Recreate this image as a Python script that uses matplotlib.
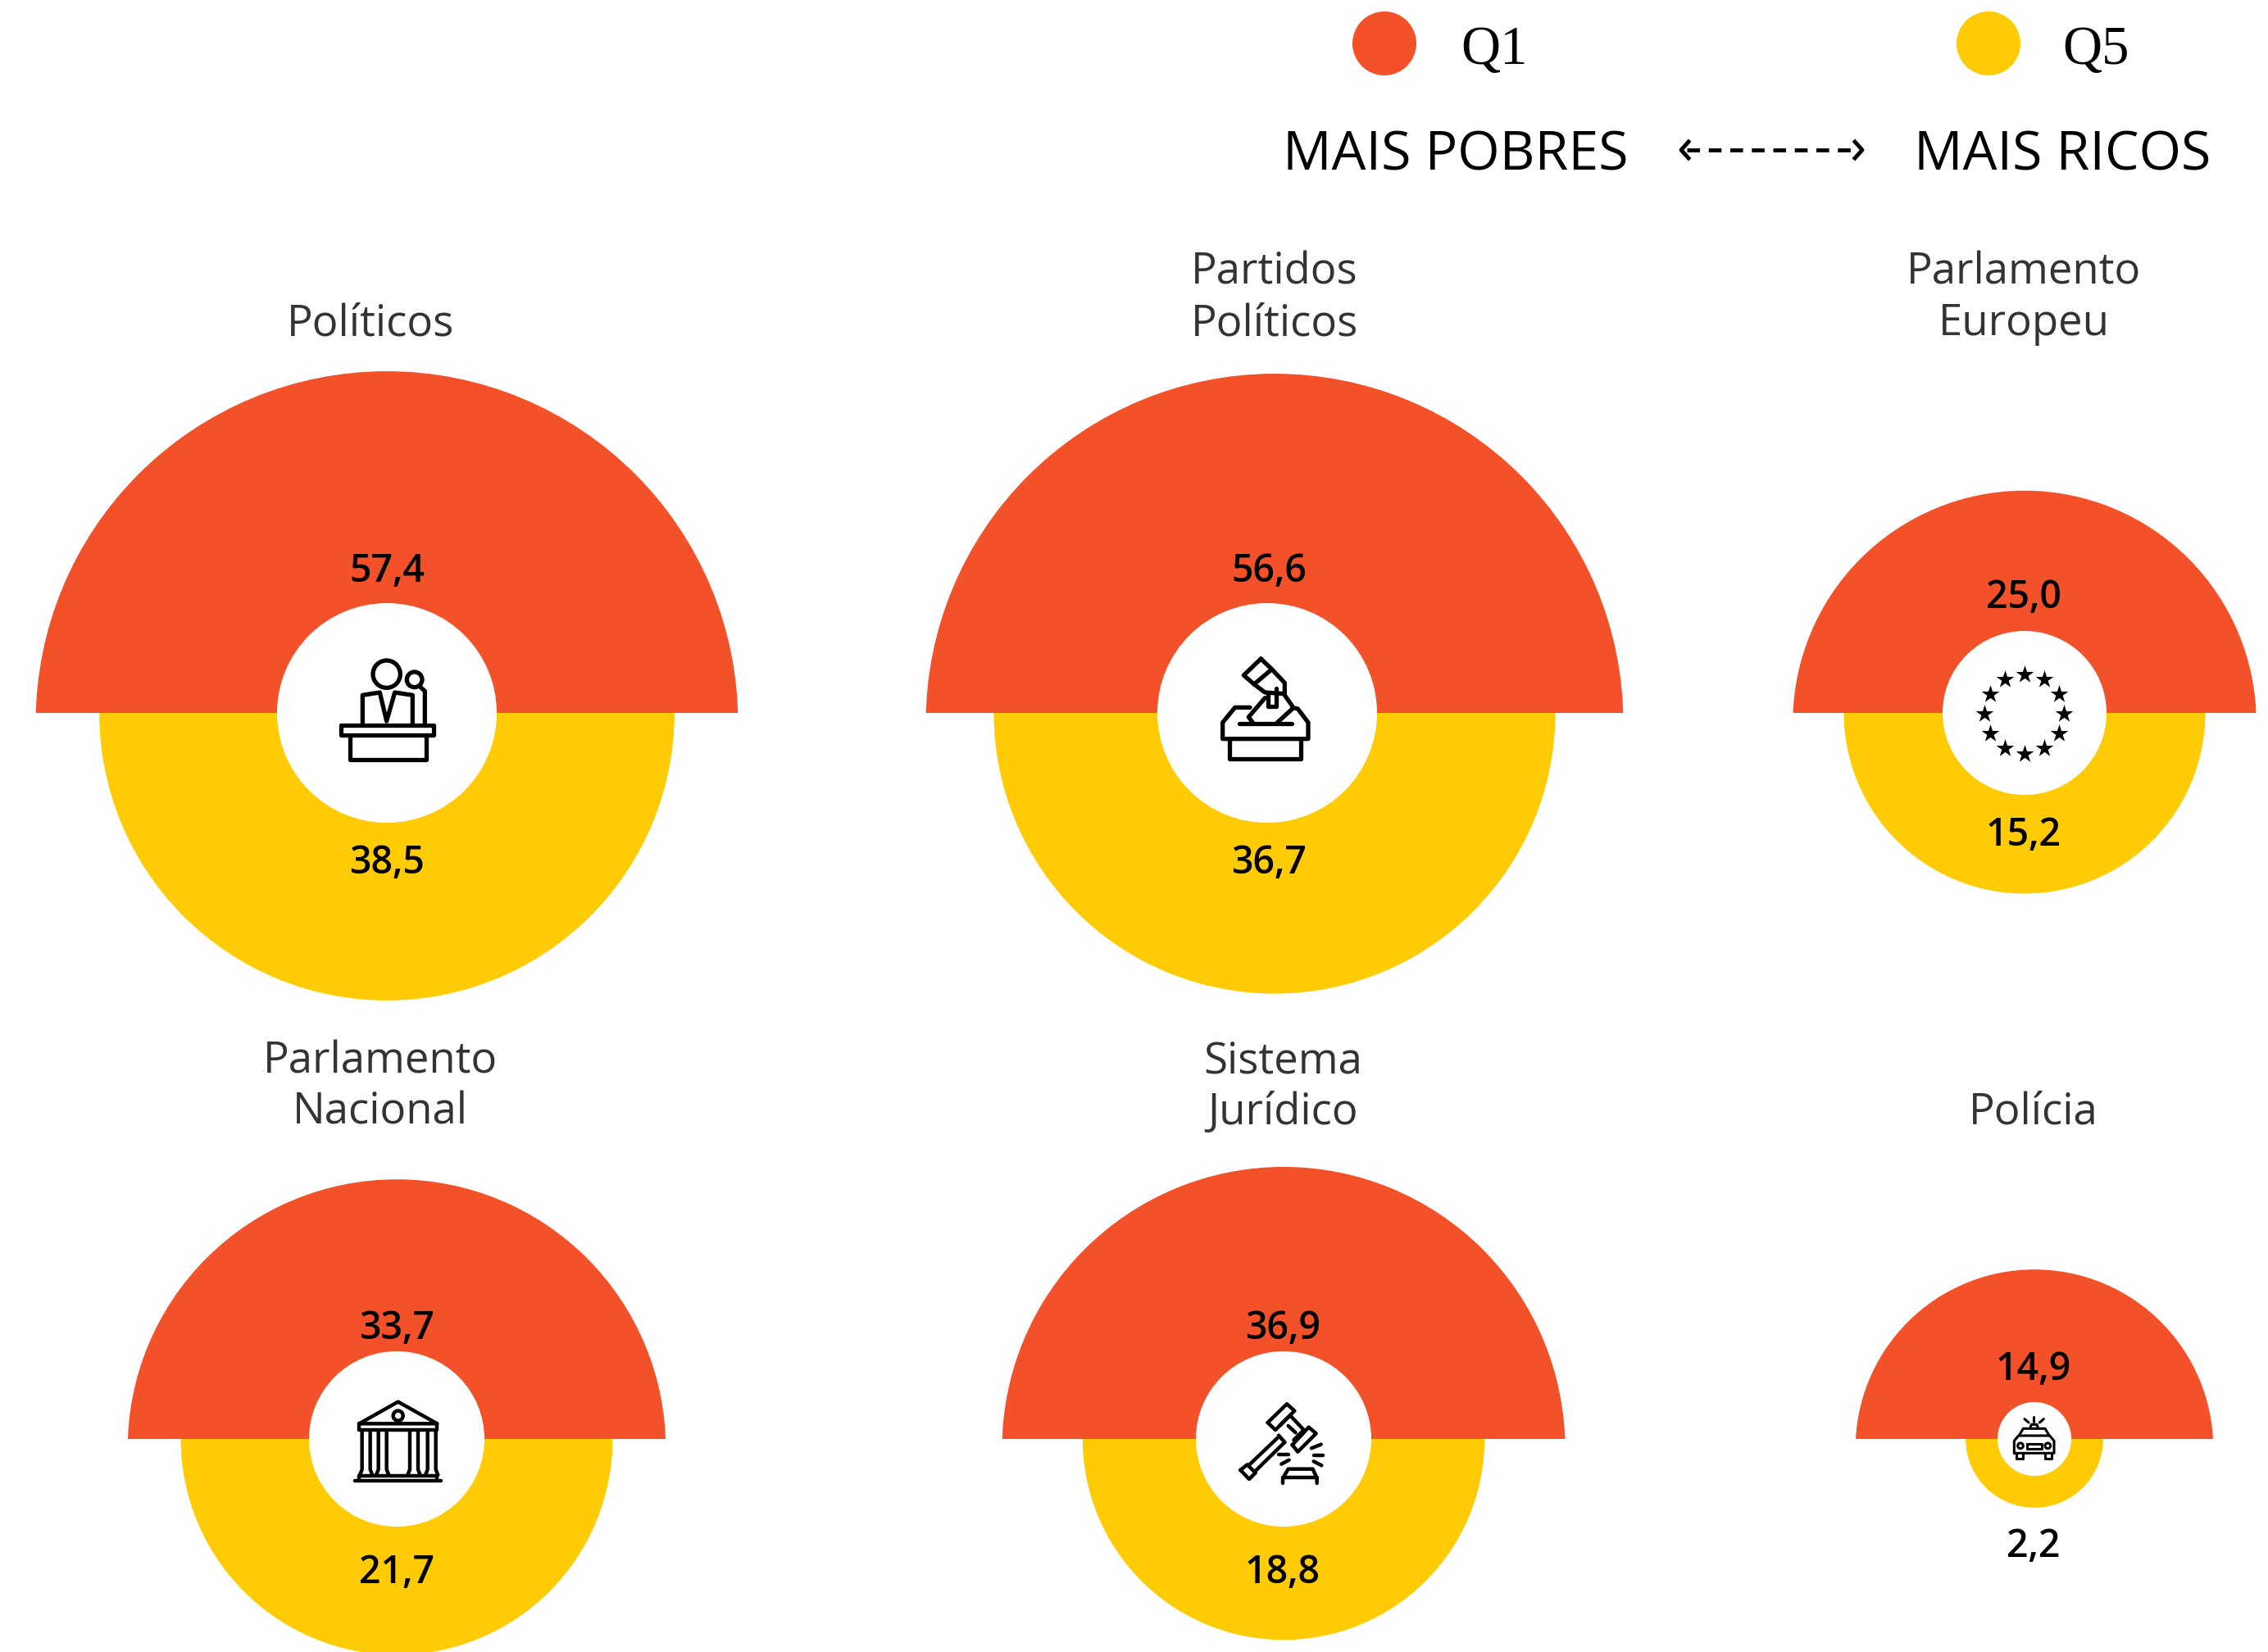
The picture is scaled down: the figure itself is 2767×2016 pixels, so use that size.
import numpy as np
import matplotlib
matplotlib.use("Agg")
import matplotlib.pyplot as plt
from matplotlib.patches import Circle, Wedge, Rectangle

# dados
titles = ["Políticos", "Partidos\nPolíticos", "Parlamento\nEuropeu",
          "Parlamento\nNacional", "Sistema\nJurídico", "Polícia"]
q1_values = [57.4, 56.6, 25.0, 33.7, 36.9, 14.9]
q5_values = [38.5, 36.7, 15.2, 21.7, 18.8, 2.2]

# layout, em pixels da imagem
center_x = [472, 1555, 2470, 484, 1566, 2482]
base_y = [870, 870, 870, 1756, 1756, 1756]
hole_x = [472, 1546, 2470, 484, 1566, 2482]
hole_r = [134, 134, 100, 107, 107, 45]
q1_label_y = [697, 697, 729, 1622, 1622, 1672]
q5_label_y = [1054, 1054, 1019, 1919, 1919, 1887]
label_x = [472, 1548, 2469, 484, 1565, 2481]
title_x = [452, 1555, 2469, 464, 1565, 2481]
title_y = [409, 409, 409, 1372, 1372, 1372]  # baseline da ultima linha

RADIUS_K = 56.55  # raio = k * sqrt(valor), area proporcional
Q1_SHIFT = 11.5
RED = "#F2512A"
YELLOW = "#FFCB05"
SANS = ["Open Sans", "DejaVu Sans"]
ICON_LW = 3.8

fig = plt.figure(figsize=(27.67, 20.16), dpi=100)
ax = fig.add_axes([0, 0, 1, 1])
ax.set_xlim(0, 2767)
ax.set_ylim(2016, 0)
ax.axis("off")


def draw_lines(lines, x0, y0, lw=ICON_LW, scale=1 / 3):
    # coordenadas dos icones vem dos recortes ampliados 3x
    for pts in lines:
        pts = np.array(pts, dtype=float)
        ax.plot(x0 + pts[:, 0] * scale, y0 + pts[:, 1] * scale, color="black", lw=lw,
                solid_joinstyle="round", solid_capstyle="round", zorder=6)


def draw_rings(circles, x0, y0, lw=ICON_LW, scale=1 / 3):
    for cx, cy, r in circles:
        ax.add_patch(Circle((x0 + cx * scale, y0 + cy * scale), r * scale, fill=False,
                            ec="black", lw=lw, zorder=6))


def icon_podium():
    x0, y0 = 330, 730
    draw_rings([(425, 278, 50), (527, 298, 28)], x0, y0)
    draw_lines([
        [(337, 465), (337, 355), (400, 345), (425, 450), (455, 345), (520, 355), (520, 465)],
        [(548, 325), (565, 340), (565, 465)],
        [(258, 465), (597, 465), (597, 500), (258, 500), (258, 465)],
        [(290, 500), (290, 590), (570, 590), (570, 500)],
    ], x0, y0)


def icon_ballot():
    x0, y0 = 1410, 730
    draw_lines([
        [(385, 222), (425, 260), (360, 315), (322, 282), (385, 222)],
        [(425, 260), (472, 310), (472, 350)],
        [(360, 315), (400, 345), (472, 350)],
        [(410, 345), (410, 395), (440, 395), (440, 330)],
        [(400, 365), (340, 435), (355, 455)],
        [(445, 455), (500, 405)],
        [(472, 355), (500, 395)],
        [(345, 400), (290, 400), (245, 455), (245, 515), (558, 515), (558, 455), (520, 405), (500, 400)],
        [(305, 458), (497, 458)],
        [(270, 515), (270, 588), (532, 588), (532, 515)],
    ], x0, y0)


def icon_stars():
    angles = np.arange(12) * np.pi / 6
    ax.scatter(2469.8 + 48.5 * np.cos(angles), 871 + 48.5 * np.sin(angles),
               marker="*", s=270, color="black", linewidths=0, zorder=6)


def icon_temple():
    x0, y0 = 370, 1650
    draw_rings([(347, 233, 18)], x0, y0, lw=3.2)
    lines = [
        [(205, 262), (347, 182), (490, 262), (205, 262)],
        [(205, 262), (205, 285), (490, 285), (490, 262)],
        [(205, 452), (490, 452)],
        [(190, 472), (505, 472)],
        [(205, 452), (205, 472)],
        [(490, 452), (490, 472)],
    ]
    for x in [215, 275, 390, 455]:
        lines.append([(x, 290), (x, 430), (x - 8, 450)])
        lines.append([(x + 30, 290), (x + 30, 430), (x + 38, 450)])
    draw_lines(lines, x0, y0, lw=3.2)


def icon_gavel():
    x0, y0 = 1450, 1650
    draw_lines([
        [(290, 258), (360, 190), (388, 215), (318, 285), (290, 258)],
        [(380, 340), (440, 275), (467, 298), (400, 365), (380, 340)],
        [(335, 268), (372, 232), (422, 285), (385, 322)],
        [(365, 270), (392, 295)],
        [(330, 305), (352, 330)],
        [(330, 310), (220, 415)],
        [(352, 330), (242, 438)],
        [(190, 432), (215, 412), (245, 442), (222, 465), (190, 432)],
        [(345, 480), (345, 462), (365, 428), (455, 428), (470, 462), (470, 480)],
        [(345, 460), (470, 460)],
        [(330, 375), (365, 375)],
        [(340, 410), (368, 395)],
        [(450, 352), (485, 338)],
        [(458, 378), (492, 378)],
        [(458, 400), (487, 415)],
    ], x0, y0, lw=3.2)


def icon_car():
    x0, y0 = 2420, 1700
    draw_rings([(135, 193, 10), (235, 193, 10)], x0, y0, lw=2.2)
    draw_lines([
        [(130, 155), (145, 130), (225, 130), (240, 155)],
        [(170, 130), (175, 115), (195, 115), (200, 130)],
        [(183, 88), (183, 104)],
        [(150, 95), (165, 108)],
        [(220, 95), (205, 108)],
        [(112, 220), (112, 175), (128, 156), (242, 156), (258, 175), (258, 220), (112, 220)],
        [(120, 220), (120, 240), (145, 240), (145, 220)],
        [(225, 220), (225, 240), (250, 240), (250, 220)],
        [(158, 185), (212, 185), (212, 205), (158, 205), (158, 185)],
    ], x0, y0, lw=2.2)


# semicirculos
for i in range(len(titles)):
    r1 = RADIUS_K * np.sqrt(q1_values[i])
    r5 = RADIUS_K * np.sqrt(q5_values[i])
    red = Circle((center_x[i], base_y[i] + Q1_SHIFT), r1, fc=RED, ec="none", zorder=2)
    ax.add_patch(red)
    red.set_clip_path(Rectangle((center_x[i] - r1 - 5, base_y[i] - r1 - 5), 2 * r1 + 10, r1 + 5,
                                transform=ax.transData))
    ax.add_patch(Wedge((center_x[i], base_y[i]), r5, 0, 180, fc=YELLOW, ec="none", zorder=3))
    ax.add_patch(Circle((hole_x[i], base_y[i]), hole_r[i], fc="white", ec="none", zorder=4))

    ax.text(label_x[i], q1_label_y[i], f"{q1_values[i]:.1f}".replace(".", ","), ha="center", va="center",
            family=SANS, weight=600, fontsize=33.5, color="black", zorder=7)
    ax.text(label_x[i], q5_label_y[i], f"{q5_values[i]:.1f}".replace(".", ","), ha="center", va="center",
            family=SANS, weight=600, fontsize=33.5, color="black", zorder=7)
    ax.text(title_x[i], title_y[i], titles[i], ha="center", va="baseline", linespacing=1.23,
            family=SANS, fontsize=38, color="#333333", zorder=7)

icon_podium()
icon_ballot()
icon_stars()
icon_temple()
icon_gavel()
icon_car()

# legenda
ax.add_patch(Circle((1689, 53), 39, fc=RED, ec="none"))
ax.add_patch(Circle((2426, 53), 39, fc=YELLOW, ec="none"))
ax.text(1782, 78, "Q1", family=["Liberation Serif"], fontsize=48, color="black", ha="left", va="baseline")
ax.text(2516, 78, "Q5", family=["Liberation Serif"], fontsize=48, color="black", ha="left", va="baseline")
ax.text(1565, 208, "MAIS POBRES", family=SANS, fontsize=47.6, color="black", ha="left", va="baseline")
ax.text(2335, 208, "MAIS RICOS", family=SANS, fontsize=47.6, color="black", ha="left", va="baseline")
ax.plot([2058, 2266], [183, 183], color="black", lw=3.5, linestyle=(0, (3.2, 2.2)))
ax.plot([2060, 2051, 2060], [173, 183, 193], color="black", lw=3.5)
ax.plot([2263, 2272, 2263], [173, 183, 193], color="black", lw=3.5)

fig.savefig("out.png", dpi=100, facecolor="white")
